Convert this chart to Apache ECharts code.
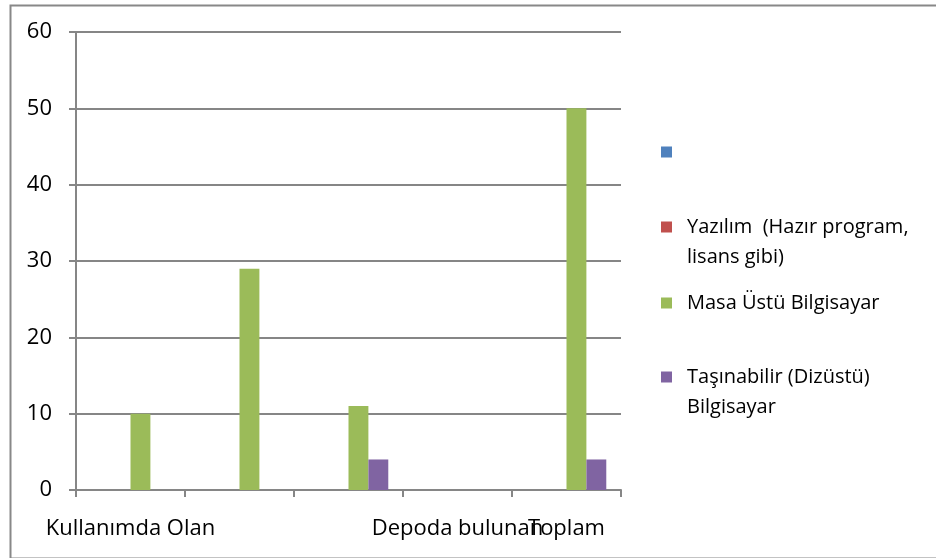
<!DOCTYPE html>
<html><head><meta charset="utf-8">
<script src="https://cdn.jsdelivr.net/npm/echarts@6/dist/echarts.min.js"></script>
<style>html,body{margin:0;padding:0;background:#fff}#c{width:936px;height:558px}</style>
</head><body><div id="c"></div>
<script>
const categories = ['Kullanımda Olan', '', '', 'Depoda bulunan', 'Toplam'];
const seriesNames = [' ', 'Yazılım  (Hazır program,\nlisans gibi)', 'Masa Üstü Bilgisayar', 'Taşınabilir (Dizüstü)\nBilgisayar'];
const blueValues = [null, null, null, null, null];
const redValues = [null, null, null, null, null];
const greenValues = [10, 29, 11, null, 50];
const purpleValues = [null, null, 4, null, 4];
const yTicks = [0, 10, 20, 30, 40, 50, 60];

const colors = ['#4F81BD', '#C0504D', '#9BBB59', '#8064A2'];
const allValues = [blueValues, redValues, greenValues, purpleValues];
const FONT = '"Open Sans"';

const iconCenters = [152, 227, 303, 377];
const LH = 30;

const chart = echarts.init(document.getElementById('c'), null, {renderer: 'canvas'});
chart.setOption({
  animation: false,
  backgroundColor: '#fff',
  color: colors,
  textStyle: {fontFamily: FONT},
  graphic: [{
    type: 'rect', left: 8, top: 3, silent: true,
    shape: {x: 0, y: 0, width: 940, height: 553},
    style: {fill: 'none', stroke: '#888', lineWidth: 2}
  }],
  grid: {left: 76, right: 315, top: 32, bottom: 68, containLabel: false},
  legend: seriesNames.map((n, i) => {
    const isMulti = n.indexOf('\n') >= 0;
    return {
      data: [n], left: 661, top: iconCenters[i] - (isMulti ? 1.5 * LH : 0.5 * LH),
      orient: 'vertical', itemWidth: 11, itemHeight: 11, itemGap: 0, icon: 'rect',
      selectedMode: false, padding: 0,
      formatter: name => isMulti ? ' \n' + name : name,
      textStyle: {fontFamily: FONT, fontSize: 20, color: '#000', lineHeight: LH,
        padding: [0, 0, 0, 10]}
    };
  }),
  xAxis: {
    type: 'category', data: categories,
    axisLine: {lineStyle: {color: '#868686', width: 2}},
    axisTick: {show: true, length: 7, alignWithLabel: false, lineStyle: {color: '#868686', width: 2}},
    axisLabel: {interval: 0, color: '#000', fontSize: 22, fontFamily: FONT, margin: 28},
    splitLine: {show: false}
  },
  yAxis: {
    type: 'value', min: 0, max: 60, interval: 10,
    axisLine: {show: true, lineStyle: {color: '#868686', width: 2}},
    axisTick: {show: true, length: 7, lineStyle: {color: '#868686', width: 2}},
    axisLabel: {color: '#000', fontSize: 22, fontFamily: FONT, margin: 24,
      formatter: v => yTicks.includes(v) ? String(v) : ''},
    splitLine: {show: true, lineStyle: {color: '#868686', width: 2}}
  },
  series: seriesNames.map((n, i) => ({
    name: n, type: 'bar', data: allValues[i],
    barGap: '0%', barCategoryGap: '27%',
    itemStyle: {color: colors[i]}
  }))
});
</script></body></html>
